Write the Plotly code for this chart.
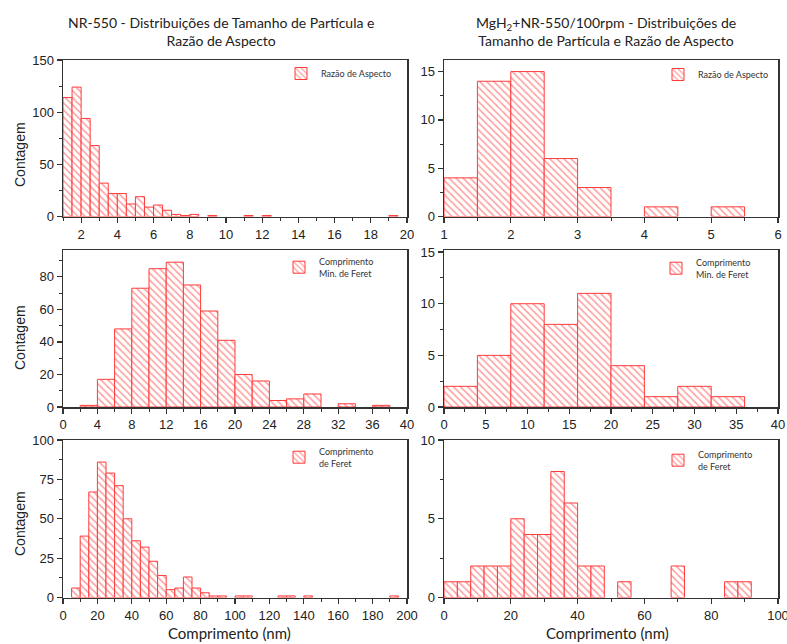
import plotly.graph_objects as go

# ---------------- data (bin left edges, bin widths, counts) ----------------
# NR-550 - aspect ratio
nr_ar_left = [1.0, 1.5, 2.0, 2.5, 3.0, 3.5, 4.0, 4.5, 5.0, 5.5, 6.0, 6.5, 7.0, 7.5, 8.0, 9.0, 11.0, 12.0, 19.0]
nr_ar_count = [114, 124, 94, 68, 32, 22, 22, 12, 19, 9, 11, 6, 2, 1, 2, 1, 1, 1, 1]
nr_ar_width = 0.5

# MgH2+NR-550 - aspect ratio
mg_ar_left = [1.0, 1.5, 2.0, 2.5, 3.0, 4.0, 5.0]
mg_ar_count = [4, 14, 15, 6, 3, 1, 1]
mg_ar_width = 0.5

# NR-550 - min Feret
nr_min_left = [2, 4, 6, 8, 10, 12, 14, 16, 18, 20, 22, 24, 26, 28, 32, 36]
nr_min_count = [1, 17, 48, 73, 85, 89, 75, 59, 41, 20, 16, 4, 5, 8, 2, 1]
nr_min_width = 2

# MgH2+NR-550 - min Feret
mg_min_left = [0, 4, 8, 12, 16, 20, 24, 28, 32]
mg_min_count = [2, 5, 10, 8, 11, 4, 1, 2, 1]
mg_min_width = 4

# NR-550 - Feret
nr_fer_left = [5, 10, 15, 20, 25, 30, 35, 40, 45, 50, 55, 60, 65, 70, 75, 80, 85, 90, 100, 105, 125, 130, 140, 190]
nr_fer_count = [6, 39, 67, 86, 79, 71, 50, 36, 32, 23, 14, 5, 6, 13, 6, 3, 1, 1, 1, 1, 1, 1, 1, 1]
nr_fer_width = 5

# MgH2+NR-550 - Feret
mg_fer_left = [0, 4, 8, 12, 16, 20, 24, 28, 32, 36, 40, 44, 52, 68, 84, 88]
mg_fer_count = [1, 1, 2, 2, 2, 5, 4, 4, 8, 6, 2, 2, 1, 2, 1, 1]
mg_fer_width = 4

legend_ar = "Razão de Aspecto"
legend_min = "Comprimento<br>Min. de Feret"
legend_fer = "Comprimento<br>de Feret"

title_left = "NR-550 - Distribuições de Tamanho de Partícula e<br>Razão de Aspecto"
title_right = "MgH<sub>2</sub>+NR-550/100rpm - Distribuições de<br>Tamanho de Partícula e Razão de Aspecto"
ytitle = "Contagem"
xtitle = "Comprimento (nm)"

# ---------------- style ----------------
W, H = 787, 644
RED = "#ff3b3b"
TICKFONT = dict(family="Liberation Sans, Arial", size=13, color="#222")
CAL = "Lato, Open Sans, sans-serif"

def px_x(p):
    return p / W

def px_y(p):
    return 1 - p / H

xdom_left = [px_x(63), px_x(407)]
xdom_right = [px_x(444), px_x(778)]
ydom = [
    [px_y(216.5), px_y(60)],
    [px_y(407), px_y(250)],
    [px_y(597.5), px_y(440)],
]

panels = [
    # (left, count, width, legend name, xrange, xdtick, xminor, yrange, ydtick, yminor, xdom, ydom)
    (nr_ar_left, nr_ar_count, nr_ar_width, legend_ar, [1, 20], 2, 1, [0, 150], 50, 25, xdom_left, ydom[0]),
    (mg_ar_left, mg_ar_count, mg_ar_width, legend_ar, [1, 6], 1, 0.5, [0, 16.2], 5, 2.5, xdom_right, ydom[0]),
    (nr_min_left, nr_min_count, nr_min_width, legend_min, [0, 40], 4, 2, [0, 96.5], 20, 10, xdom_left, ydom[1]),
    (mg_min_left, mg_min_count, mg_min_width, legend_min, [0, 40], 5, 2.5, [0, 15.2], 5, 2.5, xdom_right, ydom[1]),
    (nr_fer_left, nr_fer_count, nr_fer_width, legend_fer, [0, 200], 20, 10, [0, 100], 25, 12.5, xdom_left, ydom[2]),
    (mg_fer_left, mg_fer_count, mg_fer_width, legend_fer, [0, 100], 20, 10, [0, 10], 5, 2.5, xdom_right, ydom[2]),
]

# legend positions (pixel left, pixel top)
legend_pos = [(281, 59), (658, 60), (279, 249), (656, 250), (279, 439), (658, 442)]

fig = go.Figure()
layout = dict(
    width=W, height=H,
    margin=dict(l=0, r=0, t=0, b=0, autoexpand=False),
    paper_bgcolor="white", plot_bgcolor="white",
    bargap=0,
)

for i, (left, count, width, name, xr, xdt, xmn, yr, ydt, ymn, xd, yd) in enumerate(panels):
    n = i + 1
    xa = "x" if n == 1 else f"x{n}"
    ya = "y" if n == 1 else f"y{n}"
    lg = "legend" if n == 1 else f"legend{n}"
    fig.add_trace(go.Bar(
        x=left, y=count, width=[width] * len(left), offset=0,
        xaxis=xa, yaxis=ya, name=name, legend=lg, showlegend=True,
        marker=dict(
            color="white",
            line=dict(color=RED, width=1),
            pattern=dict(shape="\\", fgcolor=RED, bgcolor="white", size=5, solidity=0.3),
        ),
    ))
    axkey = "xaxis" if n == 1 else f"xaxis{n}"
    aykey = "yaxis" if n == 1 else f"yaxis{n}"
    layout[axkey] = dict(
        domain=xd, range=xr, anchor=ya, tick0=0, dtick=xdt,
        showgrid=False, zeroline=False, showline=True, mirror=True,
        linecolor="#333", linewidth=1.5,
        ticks="outside", ticklen=5, tickwidth=1.2, tickcolor="#333",
        minor=dict(ticks="outside", ticklen=3, tickwidth=1, tickcolor="#333", dtick=xmn, tick0=0, showgrid=False),
        tickfont=TICKFONT, automargin=False, ticklabeloverflow="allow",
    )
    layout[aykey] = dict(
        domain=yd, range=yr, anchor=xa, tick0=0, dtick=ydt,
        showgrid=False, zeroline=False, showline=True, mirror=True,
        linecolor="#333", linewidth=1.5,
        ticks="outside", ticklen=5, tickwidth=1.2, tickcolor="#333",
        minor=dict(ticks="outside", ticklen=3, tickwidth=1, tickcolor="#333", dtick=ymn, tick0=0, showgrid=False),
        tickfont=TICKFONT, automargin=False, ticklabeloverflow="allow",
    )
    lx, ly = legend_pos[i]
    layout[lg] = dict(
        x=px_x(lx), y=px_y(ly), xanchor="left", yanchor="top",
        bgcolor="rgba(0,0,0,0)", borderwidth=0,
        font=dict(family=CAL, size=9, color="#333"),
        itemclick=False, itemdoubleclick=False,
    )

def ann(text, cx, cy, size, family=CAL, angle=0):
    return dict(text=text, x=px_x(cx), y=px_y(cy), xref="paper", yref="paper",
                xanchor="center", yanchor="middle", showarrow=False, textangle=angle,
                align="center", font=dict(family=family, size=size, color="#222"))

annotations = [
    ann(title_left, 221, 31, 14),
    ann(title_right, 606, 31, 14),
    ann(xtitle, 229, 633, 15),
    ann(xtitle, 607, 633, 15),
]
for cy in (155, 338, 524):
    annotations.append(ann(ytitle, 20, cy, 14, family="Liberation Sans, Arial", angle=-90))
layout["annotations"] = annotations

fig.update_layout(**layout)
fig.write_html(
    "out.html",
    config={"displayModeBar": False, "staticPlot": True},
    post_script="document.body.style.margin='0px';document.body.style.overflow='hidden';",
)
